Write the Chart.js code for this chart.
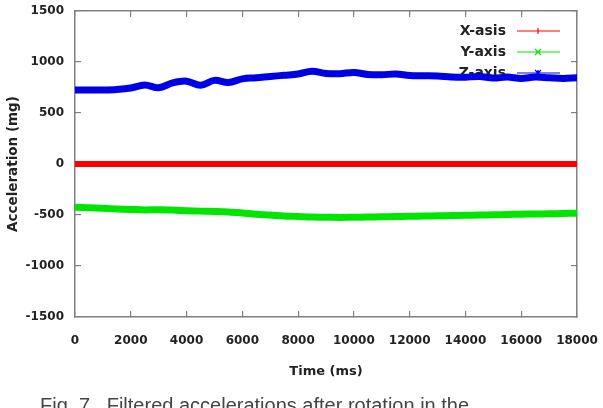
<!DOCTYPE html>
<html>
<head>
<meta charset="utf-8">
<script src="https://cdn.jsdelivr.net/npm/chart.js@4.4.1/dist/chart.umd.min.js"></script>
<style>
  html, body { margin: 0; padding: 0; background: #fff; }
  body { width: 603px; height: 408px; overflow: hidden; position: relative; }
  #wrap { position: absolute; left: 0; top: 0; width: 603px; height: 408px; }
  #caption {
    position: absolute; left: 40px; top: 394px; white-space: pre;
    font-family: "Liberation Sans", Arial, sans-serif; font-size: 20px; color: #444;
  }
</style>
</head>
<body>
<div id="wrap"><canvas id="accChart" width="603" height="408"></canvas></div>
<div id="caption">Fig. 7   Filtered accelerations after rotation in the</div>
<script>
// time axis (ms)
const times = [0, 500, 1000, 1500, 2000, 2500, 3000, 3500, 4000, 4500, 5000, 5500, 6000, 6500, 7000, 7500, 8000, 8500, 9000,
  9500, 10000, 10500, 11000, 11500, 12000, 12500, 13000, 13500, 14000, 14500, 15000, 15500, 16000, 16500, 17000, 17500, 18000];

// acceleration (mg)
const xAxisAcc = [0, 0, 0, 0, 0, 0, 0, 0, 0, 0, 0, 0, 0, 0, 0, 0, 0, 0, 0,
  0, 0, 0, 0, 0, 0, 0, 0, 0, 0, 0, 0, 0, 0, 0, 0, 0, 0];
const yAxisAcc = [-425, -430, -435, -440, -445, -450, -448, -452, -458, -462, -465, -470, -480, -492, -500, -510, -515, -520, -522,
  -524, -522, -520, -518, -515, -513, -510, -508, -505, -503, -500, -498, -495, -492, -490, -488, -485, -482];
const zAxisAcc = [725, 725, 725, 730, 745, 775, 748, 795, 812, 772, 820, 798, 835, 845, 858, 870, 882, 910, 888,
  885, 898, 878, 875, 882, 868, 865, 862, 852, 850, 858, 842, 852, 838, 852, 845, 838, 845];

const xTicks = [0, 2000, 4000, 6000, 8000, 10000, 12000, 14000, 16000, 18000];
const yTicks = [-1500, -1000, -500, 0, 500, 1000, 1500];

const seriesNames = ['X-asis', 'Y-axis', 'Z-axis'];
const seriesColors = ['#ff0000', '#00e600', '#0000e6'];
const seriesMarks = ['+', 'x', '*'];

const toPoints = (vals) => times.map((t, i) => ({ x: t, y: vals[i] }));

const tickFont = { family: 'DejaVu Sans', size: 12, weight: 'bold' };
// frame: every side gets a grey border and short inward ticks (negative tick length)
const frameGrid = { display: true, drawOnChartArea: false, drawTicks: true, tickLength: -6, color: '#808080', lineWidth: 1.2 };
const frameBorder = { display: true, color: '#808080', width: 1.5 };

// legend inside the plot, text before the sample line; drawn under the data
const keyPlugin = {
    id: 'key',
    beforeDatasetsDraw(chart) {
        const ctx = chart.ctx;
        ctx.save();
        ctx.font = 'bold 14px "DejaVu Sans"';
        ctx.textAlign = 'right';
        ctx.textBaseline = 'middle';
        seriesNames.forEach((name, i) => {
            const y = 31 + i * 21;
            ctx.fillStyle = '#222';
            ctx.fillText(name, 506, y);
            ctx.strokeStyle = seriesColors[i];
            ctx.lineWidth = 1.2;
            ctx.beginPath();
            ctx.moveTo(517, y); ctx.lineTo(560, y);
            const m = 3, c = 538;
            if (seriesMarks[i] !== 'x') { ctx.moveTo(c - m, y); ctx.lineTo(c + m, y); ctx.moveTo(c, y - m); ctx.lineTo(c, y + m); }
            if (seriesMarks[i] !== '+') { ctx.moveTo(c - m, y - m); ctx.lineTo(c + m, y + m); ctx.moveTo(c - m, y + m); ctx.lineTo(c + m, y - m); }
            ctx.stroke();
        });
        ctx.restore();
    }
};

document.addEventListener('DOMContentLoaded', () => {
    const ctx = document.getElementById('accChart').getContext('2d');
    new Chart(ctx, {
        type: 'line',
        data: {
            datasets: [
                { label: seriesNames[0], data: toPoints(xAxisAcc), borderColor: seriesColors[0], borderWidth: 6, order: 3, xAxisID: 'x', yAxisID: 'y' },
                { label: seriesNames[1], data: toPoints(yAxisAcc), borderColor: seriesColors[1], borderWidth: 7, order: 2, xAxisID: 'x', yAxisID: 'y' },
                { label: seriesNames[2], data: toPoints(zAxisAcc), borderColor: seriesColors[2], borderWidth: 7, order: 1, xAxisID: 'x', yAxisID: 'y' }
            ]
        },
        options: {
            responsive: false,
            animation: false,
            devicePixelRatio: 1,
            elements: { point: { radius: 0 }, line: { tension: 0.35, borderCapStyle: 'round' } },
            layout: { padding: { top: 11, right: 26, bottom: 29, left: 0 } },
            scales: {
                x: {
                    type: 'linear', position: 'bottom', min: 0, max: 18000,
                    afterFit: (s) => { s.height = 62; s.paddingLeft = 0; s.paddingRight = 0; },
                    afterBuildTicks: (s) => { s.ticks = xTicks.map(v => ({ value: v })); },
                    grid: frameGrid,
                    border: frameBorder,
                    ticks: { padding: 23, maxRotation: 0, autoSkip: false, color: '#222',
                        callback: (v) => String(v), font: tickFont },
                    title: { display: true, text: 'Time (ms)', color: '#222', padding: 0,
                        font: { family: 'DejaVu Sans', size: 13, weight: 'bold' } }
                },
                y: {
                    type: 'linear', position: 'left', min: -1500, max: 1500,
                    afterFit: (s) => { s.width = 75; s.paddingTop = 0; s.paddingBottom = 0; },
                    afterBuildTicks: (s) => { s.ticks = yTicks.map(v => ({ value: v })); },
                    grid: frameGrid,
                    border: frameBorder,
                    ticks: { padding: 17, color: '#222',
                        callback: (v) => String(v), font: tickFont },
                    title: { display: true, text: 'Acceleration (mg)', color: '#222', padding: { top: 5, bottom: 0 },
                        font: { family: 'DejaVu Sans', size: 13.5, weight: 'bold' } }
                },
                x2: {
                    type: 'linear', axis: 'x', position: 'top', min: 0, max: 18000,
                    afterFit: (s) => { s.height = 0; s.paddingLeft = 0; s.paddingRight = 0; },
                    afterBuildTicks: (s) => { s.ticks = xTicks.map(v => ({ value: v })); },
                    grid: frameGrid,
                    border: frameBorder,
                    ticks: { display: false }
                },
                y2: {
                    type: 'linear', axis: 'y', position: 'right', min: -1500, max: 1500,
                    afterFit: (s) => { s.width = 0; s.paddingTop = 0; s.paddingBottom = 0; },
                    afterBuildTicks: (s) => { s.ticks = yTicks.map(v => ({ value: v })); },
                    grid: frameGrid,
                    border: frameBorder,
                    ticks: { display: false }
                }
            },
            plugins: {
                legend: { display: false },
                tooltip: { enabled: false }
            }
        },
        plugins: [keyPlugin]
    });
});
</script>
</body>
</html>
